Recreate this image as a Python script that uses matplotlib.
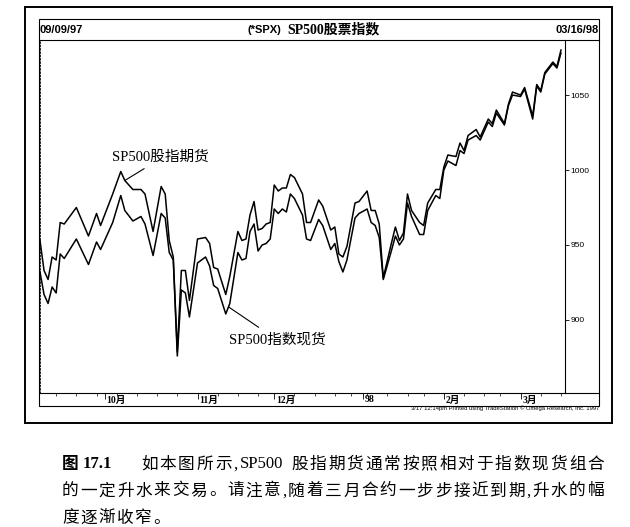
import matplotlib
matplotlib.use('Agg')
import matplotlib.pyplot as plt
import numpy as np
import pandas as pd
from matplotlib.patches import Rectangle

# ---------------- data ----------------
day = [0, 1, 2, 3, 4, 5, 6, 9, 12, 14, 15, 18, 20, 21, 23, 25, 26, 28, 30, 31,
       32, 33, 34, 35, 36, 37, 39, 41, 42, 43, 44, 46, 47, 49, 50, 51, 52, 53,
       54, 55, 56, 57, 58, 59, 60, 61, 62, 63, 65, 66, 67, 69, 70, 72, 73, 74,
       75, 76, 78, 79, 81, 82, 83, 84, 85, 87, 88, 89, 90, 91, 92, 94, 95, 96,
       98, 99, 100, 101, 103, 104, 105, 106, 108, 109, 111, 112, 113, 115, 116,
       117, 119, 120, 122, 123, 124, 125, 127, 128, 129]
spot = [932, 917, 911, 922, 918, 944, 941, 954, 937, 952, 947, 965, 983, 973,
        966, 969, 964, 943, 971, 968, 945, 940, 876, 920, 918, 902, 938, 942,
        936, 923, 921, 904, 911, 945, 940, 941, 959, 964, 946, 950, 951, 954,
        974, 971, 974, 972, 984, 981, 970, 954, 953, 967, 963, 947, 951, 939,
        932, 940, 968, 971, 974, 965, 963, 955, 927, 946, 956, 950, 954, 978,
        969, 957, 957, 973, 983, 981, 1000, 1006, 1003, 1013, 1011, 1020, 1023,
        1020, 1032, 1029, 1038, 1030, 1043, 1050, 1049, 1054, 1034, 1056, 1052,
        1064, 1071, 1068, 1078]
fut = [953, 933, 927, 942, 940, 965, 964, 975, 956, 971, 963, 984, 999, 993,
       987, 987, 984, 959, 989, 984, 953, 942, 879, 933, 933, 913, 954, 955,
       951, 935, 934, 917, 929, 959, 953, 954, 970, 979, 960, 961, 964, 965,
       990, 986, 988, 988, 997, 995, 984, 965, 965, 980, 976, 960, 962, 944,
       942, 949, 978, 979, 986, 973, 973, 964, 928, 951, 962, 953, 958, 984,
       973, 965, 963, 978, 987, 987, 1002, 1010, 1009, 1018, 1013, 1023, 1027,
       1022, 1034, 1031, 1040, 1031, 1044, 1052, 1050, 1055, 1036, 1057, 1053,
       1065, 1072, 1069, 1080]

yticks = [900, 950, 1000, 1050]
month_labels = ['10月', '11月', '12月', '98', '2月', '3月']
start_label, end_label = '09/09/97', '03/16/98'
holidays = ['1997-11-27', '1997-12-25', '1998-01-01', '1998-01-19', '1998-02-16']

# trading calendar for tick positions
dates = pd.bdate_range('1997-09-09', '1998-03-16')
dates = dates[~dates.isin(pd.to_datetime(holidays))]
month_idx = [i for i in range(1, len(dates)) if dates[i].month != dates[i - 1].month]
week_idx = [i for i in range(1, len(dates)) if dates[i].weekday() < dates[i - 1].weekday()]

CJK = ['Liberation Serif', 'Noto Sans CJK SC', 'DejaVu Sans']
SANS = ['Liberation Sans', 'DejaVu Sans']

fig = plt.figure(figsize=(6.3, 5.27), dpi=100)
bg = fig.add_axes([0, 0, 1, 1])
bg.set_xlim(0, 630)
bg.set_ylim(527, 0)
bg.axis('off')

# frames
bg.add_patch(Rectangle((25, 7), 587, 416, fill=False, lw=1.4, color='black'))
bg.add_patch(Rectangle((39, 19), 560, 387, fill=False, lw=0.8, color='black'))
bg.plot([39, 599], [40, 40], color='black', lw=0.8)
bg.plot([39, 599], [393, 393], color='black', lw=0.8)

# header texts
bg.text(40, 30, start_label, ha='left', va='center', fontsize=8, family=SANS, weight='bold')
bg.text(599, 30, end_label, ha='right', va='center', fontsize=8, family=SANS, weight='bold')
bg.text(264, 30, '(*SPX)', ha='center', va='center', fontsize=8, family=SANS, weight='bold')
bg.text(287, 30, 'SP500股票指数', ha='left', va='center', fontsize=10, family=CJK, weight='bold')
bg.text(599, 408.5, '3/17 12:14pm Printed using TradeStation © Omega Research, Inc. 1997',
        ha='right', va='center', fontsize=4.2, family=SANS)

# data axes
ax = fig.add_axes([40 / 630, (527 - 393) / 527, 525 / 630, 353 / 527])
ax.set_xlim(0, 130)
ax.set_ylim(851.3, 1086.7)
ax.patch.set_alpha(0)
ax.plot(day, fut, color='black', lw=1.1)
ax.plot(day, spot, color='black', lw=1.1)
for s in ['top', 'bottom']:
    ax.spines[s].set_visible(False)
ax.spines['left'].set_linestyle((0, (2, 2)))
ax.spines['left'].set_linewidth(0.6)
ax.spines['right'].set_linewidth(0.8)
ax.yaxis.tick_right()
ax.set_yticks(yticks)
ax.set_yticklabels([str(v) for v in yticks], family=SANS, fontsize=6)
ax.tick_params(axis='y', direction='out', length=3, width=0.6, pad=1)
ax.set_xticks(month_idx)
ax.set_xticklabels([])
ax.set_xticks(week_idx, minor=True)
ax.tick_params(axis='x', which='major', direction='out', length=4, width=0.6)
ax.tick_params(axis='x', which='minor', direction='out', length=2, width=0.5)
for i, lab in zip(month_idx, month_labels):
    ax.annotate(lab, xy=(i, 0), xycoords=('data', 'axes fraction'), xytext=(2, -7),
                textcoords='offset pixels', ha='left', va='center', fontsize=7,
                family=CJK, weight='bold')

# callouts
ax.annotate('SP500股指期货', xy=(21, 993), xytext=(160, 157), textcoords=bg.transData,
            ha='center', va='center', fontsize=10.5, family=CJK,
            arrowprops=dict(arrowstyle='-', lw=0.8, color='black', relpos=(0.42, 0),
                            shrinkA=3, shrinkB=0))
ax.annotate('SP500指数现货', xy=(46.8, 908.5), xytext=(277, 340), textcoords=bg.transData,
            ha='center', va='center', fontsize=10.5, family=CJK,
            arrowprops=dict(arrowstyle='-', lw=0.8, color='black', relpos=(0.4, 1),
                            shrinkA=4, shrinkB=0))

# caption with justified characters
renderer = fig.canvas.get_renderer()


def tokenize(s):
    toks, buf = [], ''
    for ch in s:
        if ch.isascii() and ch.isalnum():
            buf += ch
        else:
            if buf:
                toks.append(buf)
                buf = ''
            toks.append(ch)
    if buf:
        toks.append(buf)
    return toks


def place(s, x0, yb, fs=12, x1=None, gap=None, weight='normal'):
    toks = tokenize(s)
    arts = [bg.text(0, yb, t, ha='left', va='baseline', fontsize=fs, family=CJK,
                    weight=weight) for t in toks]
    widths = [a.get_window_extent(renderer).width for a in arts]
    if x1 is not None:
        gap = (x1 - x0 - sum(widths)) / max(len(toks) - 1, 1)
    x = x0
    for a, w in zip(arts, widths):
        a.set_x(x)
        x += w + gap
    return gap


bg.text(62, 468.5, '图', ha='left', va='baseline', fontsize=12, family=CJK, weight='bold')
bg.text(83, 468.5, '17.1', ha='left', va='baseline', fontsize=12, family=CJK, weight='bold')
place('如本图所示,SP500 股指期货通常按照相对于指数现货组合', 141, 468.5, x1=604)
g = place('的一定升水来交易。请注意,随着三月合约一步步接近到期,升水的幅', 62, 495.5, x1=604)
place('度逐渐收窄。', 62, 522.5, gap=g)

fig.savefig('out.png', dpi=100)
